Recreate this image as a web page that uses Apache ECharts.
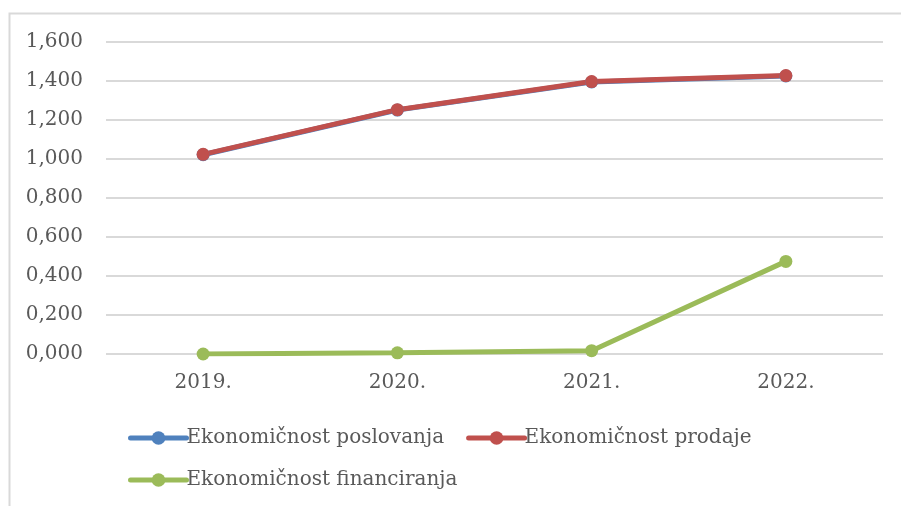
<!DOCTYPE html>
<html>
<head>
<meta charset="utf-8">
<script src="https://cdn.jsdelivr.net/npm/echarts@6/dist/echarts.min.js"></script>
<style>
	html, body { margin: 0; padding: 0; background: #fff; }
	#chart { width: 901px; height: 506px; }
</style>
</head>
<body>
<div id="chart"></div>
<script>
	var years = ["2019.", "2020.", "2021.", "2022."]; //godine
	var yTicks = [0, 0.2, 0.4, 0.6, 0.8, 1.0, 1.2, 1.4, 1.6]; //oznake osi
	var poslovanja = [1.022, 1.251, 1.395, 1.426]; //Ekonomičnost poslovanja
	var prodaje = [1.024, 1.253, 1.397, 1.428]; //Ekonomičnost prodaje
	var financiranja = [0.000, 0.006, 0.017, 0.475]; //Ekonomičnost financiranja

	var fontName = "DejaVu Serif";
	var textColor = "#595959";

	function lineSeries(name, data, color) {
		return {
			name: name,
			type: 'line',
			data: data,
			symbol: 'circle',
			symbolSize: 13,
			lineStyle: { width: 5, color: color },
			itemStyle: { color: color },
			z: 2
		};
	}

	var chart = echarts.init(document.getElementById("chart"));
	var option = {
		animation: false,
		backgroundColor: '#fff',
		textStyle: { fontFamily: fontName, color: textColor },
		graphic: [{
			type: 'rect',
			shape: { x: 9.5, y: 13.5, width: 1000, height: 1000 },
			style: { fill: 'none', stroke: '#d9d9d9', lineWidth: 2 },
			silent: true
		}],
		grid: {
			left: 106,
			right: 18,
			top: 42,
			bottom: 152
		},
		legend: {
			left: 128,
			top: 428,
			width: 720,
			padding: 0,
			itemWidth: 56,
			itemHeight: 17,
			itemGap: 22,
			lineStyle: { width: 5, cap: 'round' },
			textStyle: { fontFamily: fontName, fontSize: 20, color: textColor, lineHeight: 20, padding: [0, 0, 0, -5] },
			data: ['Ekonomičnost poslovanja', 'Ekonomičnost prodaje', 'Ekonomičnost financiranja']
		},
		xAxis: {
			type: 'category',
			data: years,
			boundaryGap: true,
			axisLine: { show: false },
			axisTick: { show: false },
			axisLabel: { fontFamily: fontName, fontSize: 20, color: textColor, margin: 19 }
		},
		yAxis: {
			type: 'value',
			min: yTicks[0],
			max: yTicks[yTicks.length - 1],
			interval: 0.2,
			axisLine: { show: false },
			axisTick: { show: false },
			splitLine: { lineStyle: { color: '#d9d9d9', width: 2 } },
			axisLabel: {
				fontFamily: fontName,
				fontSize: 20,
				color: textColor,
				margin: 23,
				formatter: function(v) { return v.toFixed(3).replace('.', ','); }
			}
		},
		series: [
			lineSeries('Ekonomičnost poslovanja', poslovanja, '#4f81bd'),
			lineSeries('Ekonomičnost prodaje', prodaje, '#c0504d'),
			lineSeries('Ekonomičnost financiranja', financiranja, '#9bbb59')
		]
	};
	chart.setOption(option);
</script>
</body>
</html>
